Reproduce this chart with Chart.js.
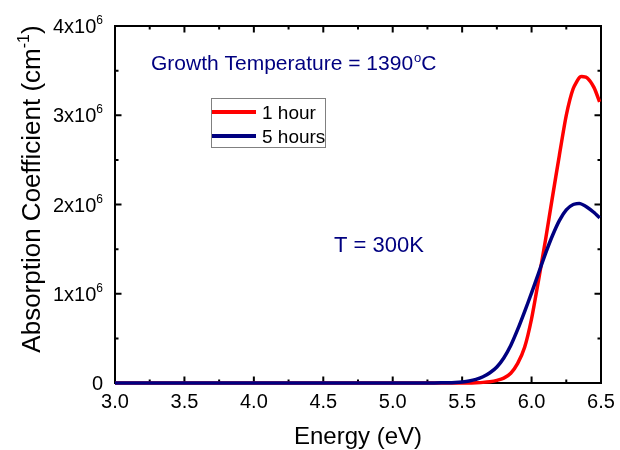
<!DOCTYPE html>
<html>
<head>
<meta charset="utf-8">
<script src="https://cdn.jsdelivr.net/npm/chart.js@4.4.1/dist/chart.umd.min.js"></script>
<style>
  html, body { margin: 0; padding: 0; background: #fff; }
</style>
</head>
<body>
<canvas id="chart-abs" width="620" height="450"></canvas>
<script>
// データ（エネルギー eV / 吸収係数 x10^6 cm^-1）
const energy = [3.0, 3.5, 4.0, 4.5, 5.0, 5.3, 5.4, 5.45, 5.5, 5.55, 5.6, 5.65, 5.7, 5.75, 5.8,
  5.85, 5.9, 5.95, 6.0, 6.05, 6.1, 6.15, 6.2, 6.25, 6.3, 6.35, 6.4, 6.45, 6.49];
const oneHour = [0, 0, 0, 0, 0, 0, 0, 0, 0, 0, 0.003, 0.007, 0.015, 0.03, 0.055,
  0.11, 0.22, 0.40, 0.72, 1.15, 1.6, 2.08, 2.55, 3.0, 3.30, 3.43, 3.42, 3.31, 3.15];
const fiveHours = [0, 0, 0, 0, 0, 0.001, 0.003, 0.006, 0.012, 0.022, 0.04, 0.07, 0.115, 0.18, 0.28,
  0.42, 0.60, 0.80, 1.01, 1.23, 1.45, 1.65, 1.82, 1.94, 2.00, 2.01, 1.97, 1.91, 1.85];
const seriesLabels = ["1 hour", "5 hours"];

const xTicks = [3.0, 3.5, 4.0, 4.5, 5.0, 5.5, 6.0, 6.5];
const xTickLabels = ["3.0", "3.5", "4.0", "4.5", "5.0", "5.5", "6.0", "6.5"];
const yTicks = [0, 1e6, 2e6, 3e6, 4e6];
const yTickLabels = ["0", "1x10^6", "2x10^6", "3x10^6", "4x10^6"];

const NAVY = "#000080";
const FONT = "'Liberation Sans', Arial, sans-serif";
Chart.defaults.font.family = FONT;

function toPoints(ys) {
  return energy.map((e, i) => ({ x: e, y: ys[i] * 1e6 }));
}

// 上付き文字を含むテキストを描画（"^" の後ろを上付き）
function drawSup(ctx, x, y, text, size, supSize, rise, align) {
  const parts = text.split("^");
  ctx.font = size + "px " + FONT;
  const w0 = ctx.measureText(parts[0]).width;
  ctx.font = supSize + "px " + FONT;
  const w1 = parts[1] ? ctx.measureText(parts[1]).width : 0;
  let sx = x;
  if (align === "right") sx = x - w0 - w1;
  ctx.textAlign = "left";
  ctx.font = size + "px " + FONT;
  ctx.fillText(parts[0], sx, y);
  if (parts[1]) {
    ctx.font = supSize + "px " + FONT;
    ctx.fillText(parts[1], sx + w0, y - rise);
  }
}

const frame = {
  id: "frame",
  beforeDatasetsDraw(chart) {
    const { ctx, chartArea: a, scales } = chart;
    ctx.save();
    ctx.strokeStyle = "#000";
    ctx.lineWidth = 2;
    ctx.strokeRect(a.left, a.top, a.right - a.left, a.bottom - a.top);
    ctx.beginPath();
    // 目盛り（内向き、主目盛りは長め）
    for (let k = 0; k <= 14; k++) {
      const px = scales.x.getPixelForValue(3.0 + k * 0.25);
      const len = k % 2 === 0 ? 6.5 : 3.5;
      ctx.moveTo(px, a.bottom); ctx.lineTo(px, a.bottom - len);
      ctx.moveTo(px, a.top); ctx.lineTo(px, a.top + len);
    }
    for (let k = 0; k <= 8; k++) {
      const py = scales.y.getPixelForValue(k * 0.5e6);
      const len = k % 2 === 0 ? 6.5 : 3.5;
      ctx.moveTo(a.left, py); ctx.lineTo(a.left + len, py);
      ctx.moveTo(a.right, py); ctx.lineTo(a.right - len, py);
    }
    ctx.stroke();
    ctx.restore();
  },
  afterDraw(chart) {
    const { ctx, scales } = chart;
    ctx.save();
    ctx.fillStyle = "#000";
    ctx.textBaseline = "alphabetic";
    // Y軸ラベル
    yTicks.forEach((v, i) => {
      const py = scales.y.getPixelForValue(v);
      drawSup(ctx, 103, py + 7, yTickLabels[i], 20, 12, 9, "right");
    });

    // Y軸タイトル（回転）
    ctx.translate(31, 189);
    ctx.rotate(-Math.PI / 2);
    ctx.font = "26px " + FONT;
    const t1 = "Absorption Coefficient (cm", t3 = ")";
    const w1 = ctx.measureText(t1).width;
    const w3 = ctx.measureText(t3).width;
    ctx.font = "16px " + FONT;
    const w2 = ctx.measureText("-1").width;
    let sx = -(w1 + w2 + w3) / 2;
    ctx.font = "26px " + FONT;
    ctx.fillText(t1, sx, 9);
    ctx.font = "16px " + FONT;
    ctx.fillText("-1", sx + w1, -2);
    ctx.font = "26px " + FONT;
    ctx.fillText(t3, sx + w1 + w2, 9);
    ctx.setTransform(1, 0, 0, 1, 0, 0);

    // 注釈
    ctx.fillStyle = NAVY;
    ctx.font = "21px " + FONT;
    const g = "Growth Temperature = 1390";
    ctx.fillText(g, 151, 70);
    const gw = ctx.measureText(g).width;
    ctx.font = "13px " + FONT;
    ctx.fillText("o", 151 + gw + 1, 62);
    const ow = ctx.measureText("o").width;
    ctx.font = "21px " + FONT;
    ctx.fillText("C", 151 + gw + ow + 1, 70);
    ctx.font = "22px " + FONT;
    ctx.fillText("T = 300K", 334, 252);

    // 凡例
    ctx.strokeStyle = "#808080";
    ctx.lineWidth = 1;
    ctx.strokeRect(211.5, 98.5, 114, 49);
    const ds = chart.data.datasets;
    [112, 136].forEach((ly, i) => {
      ctx.strokeStyle = ds[i].borderColor;
      ctx.lineWidth = 4;
      ctx.beginPath();
      ctx.moveTo(212, ly); ctx.lineTo(256, ly);
      ctx.stroke();
      ctx.fillStyle = "#000";
      ctx.font = "19px " + FONT;
      ctx.fillText(seriesLabels[i], 262, ly + 7);
    });
    ctx.restore();
  }
};

const ctx = document.getElementById("chart-abs");
new Chart(ctx, {
  type: "line",
  data: {
    datasets: [
      { label: seriesLabels[0], data: toPoints(oneHour), borderColor: "#ff0000", order: 1 },
      { label: seriesLabels[1], data: toPoints(fiveHours), borderColor: NAVY, order: 0 },
    ],
  },
  options: {
    responsive: false,
    animation: false,
    events: [],
    clip: false,
    elements: {
      point: { radius: 0 },
      line: { borderWidth: 3.5, tension: 0.2, fill: false },
    },
    layout: { padding: { top: 26, right: 19, left: 0, bottom: 0 } },
    plugins: { legend: { display: false }, tooltip: { enabled: false } },
    scales: {
      x: {
        type: "linear",
        min: 3.0,
        max: 6.5,
        grid: { display: false },
        border: { display: false },
        afterBuildTicks: (s) => { s.ticks = xTicks.map((v) => ({ value: v })); },
        ticks: {
          callback: (v, i) => xTickLabels[i],
          font: { size: 20 },
          color: "#000",
          padding: -1,
          maxRotation: 0,
          autoSkip: false,
        },
        title: {
          display: true,
          text: "Energy (eV)",
          font: { size: 24 },
          color: "#000",
          padding: { top: 0, bottom: -2 },
        },
        afterFit: (s) => { s.height = 67; },
      },
      y: {
        min: 0,
        max: 4e6,
        grid: { display: false },
        border: { display: false },
        ticks: { display: false },
        afterFit: (s) => { s.width = 115; },
      },
    },
  },
  plugins: [frame],
});
</script>
</body>
</html>
